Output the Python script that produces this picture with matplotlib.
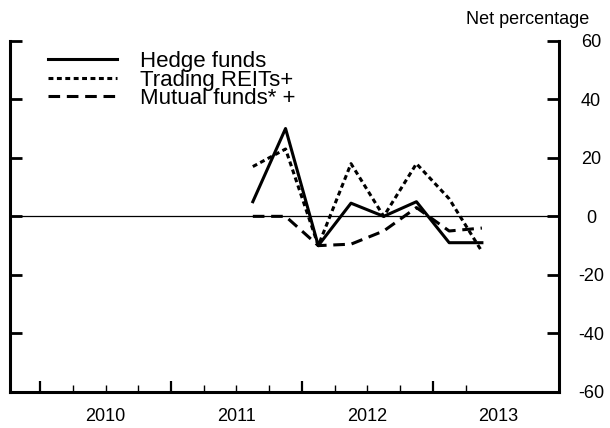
import matplotlib
matplotlib.use("Agg")
import matplotlib.pyplot as plt

plt.rcParams['font.family'] = ['Liberation Sans', 'DejaVu Sans']
plt.rcParams['axes.unicode_minus'] = False

# Quarterly observations, 2011Q3 .. 2013Q2 (plotted at quarter midpoints)
quarters = [2011.625, 2011.875, 2012.125, 2012.375, 2012.625, 2012.875, 2013.125, 2013.375]
hedge_funds = [5, 30, -10, 4.5, 0, 5, -9, -9]
trading_reits = [17, 23, -10, 18, 0, 18, 6, -12]
mutual_funds = [0, 0, -10, -9.5, -5, 3, -5, -4]

series_labels = ["Hedge funds", "Trading REITs+", "Mutual funds* +"]
year_labels = ["2010", "2011", "2012", "2013"]
years = [2010, 2011, 2012, 2013]
y_ticks = [-60, -40, -20, 0, 20, 40, 60]

fig = plt.figure(figsize=(6.10, 4.28), dpi=100)
ax = fig.add_axes([10/610, 36/428, 549/610, 351.3/428])

lw = 2.2
ax.axhline(0, color='black', lw=0.9, zorder=1)
ax.plot(quarters, hedge_funds, color='black', lw=lw, ls='-', label=series_labels[0])
ax.plot(quarters, trading_reits, color='black', lw=lw, ls=(0, (1.6, 1.15)), label=series_labels[1])
ax.plot(quarters, mutual_funds, color='black', lw=lw, ls=(0, (3.8, 2.2)), label=series_labels[2])

ax.set_xlim(2009.77, 2013.964)
ax.set_ylim(-60, 60)

for side in ['left', 'right', 'bottom']:
    ax.spines[side].set_linewidth(2.2)
ax.spines['top'].set_visible(False)

# x ticks
ax.set_xticks(years)
ax.set_xticklabels([])
ax.set_xticks([y + q for y in years for q in (0.25, 0.5, 0.75) if y + q < 2013.5], minor=True)
ax.tick_params(axis='x', which='major', direction='in', length=8, width=1.6, top=False)
ax.tick_params(axis='x', which='minor', direction='in', length=5.4, width=1.0, top=False)
for yr, lab in zip(years, year_labels):
    ax.annotate(lab, xy=(yr + 0.5, 0), xycoords=('data', 'axes fraction'),
                xytext=(0, -16), textcoords='offset pixels', ha='center', va='top',
                fontsize=13)

# y ticks
ax.set_yticks(y_ticks)
ax.set_yticks([60], minor=True)
ax.tick_params(axis='y', which='major', direction='in', length=8.6, width=2.0,
               left=True, right=True, labelleft=False, labelright=True,
               labelsize=13, pad=23)
ax.tick_params(axis='y', which='minor', direction='in', length=16, width=2.0,
               left=True, right=True, labelleft=False, labelright=False)
for t in ax.yaxis.get_major_ticks():
    t.label2.set_horizontalalignment('center')

ax.text(1.055, 1.035, "Net percentage", transform=ax.transAxes, ha='right', va='bottom',
        fontsize=13)

leg = ax.legend(loc='upper left', bbox_to_anchor=(0.0692, 0.97), frameon=False,
                fontsize=16, handlelength=3.1, handletextpad=1.04,
                labelspacing=-0.12, borderpad=0, borderaxespad=0)

fig.savefig("out.png", dpi=100)
